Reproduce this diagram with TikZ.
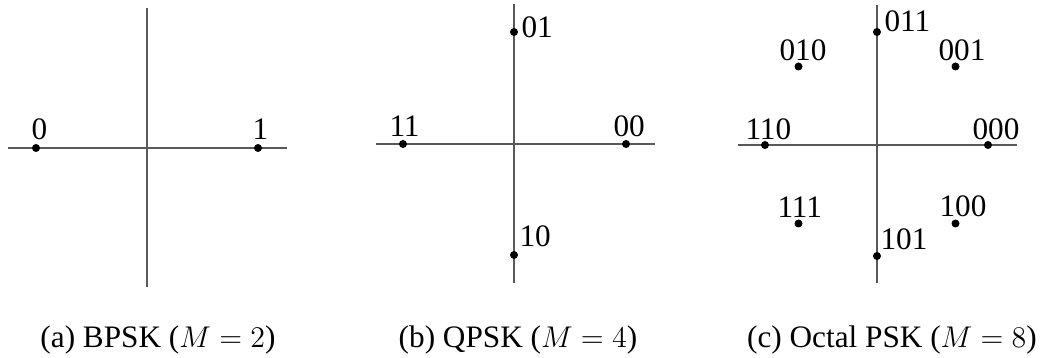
\documentclass[tikz,border=0pt]{standalone}
\usepackage[no-math]{fontspec}
\setmainfont{Liberation Serif}
\tikzset{
  axis/.style={draw=black!65, line width=0.5pt},
  sym/.style={circle, fill=black, inner sep=0pt, minimum size=3.2pt},
  bits/.style={anchor=base west, inner sep=0pt, font=\fontsize{12.5}{15}\selectfont},
  subcap/.style={anchor=base, inner sep=0pt, font=\fontsize{12.5}{15}\selectfont}
}
\begin{document}
\begin{tikzpicture}[x=0.4pt,y=-0.4pt]
  \useasboundingbox (0,0) rectangle (1052,358);
% (a) BPSK
  \draw[axis] (8,148) -- (287,148);
  \draw[axis] (147,8) -- (147,287);
  \node[sym] (a0) at (36,148) {};
  \node[sym] (a1) at (258,148) {};
  \node[bits] (la0) at (31,140) {0};
  \node[bits] (la1) at (252,140) {1};
  \node[subcap] (capa) at (158,348) {(a) BPSK ($M=2$)};
% (b) QPSK
  \draw[axis] (376,144) -- (655,144);
  \draw[axis] (514,4) -- (514,283);
  \node[sym] (b00) at (626,144) {};
  \node[sym] (b01) at (514,32) {};
  \node[sym] (b11) at (403,144) {};
  \node[sym] (b10) at (514,255) {};
  \node[bits] (lb00) at (613,137) {00};
  \node[bits] (lb01) at (521,38) {01};
  \node[bits] (lb11) at (389,137) {11};
  \node[bits] (lb10) at (519,247) {10};
  \node[subcap] (capb) at (518,348) {(b) QPSK ($M = 4$)};
% (c) octal PSK
  \draw[axis] (738,145) -- (1017,145);
  \draw[axis] (877,5) -- (877,283);
  \node[sym] (c000) at (988,145) {};
  \node[sym] (c001) at (955.5,66.5) {};
  \node[sym] (c011) at (877,32) {};
  \node[sym] (c010) at (798.5,66.5) {};
  \node[sym] (c110) at (765,145) {};
  \node[sym] (c111) at (798.5,223.5) {};
  \node[sym] (c101) at (877,256) {};
  \node[sym] (c100) at (955.5,223.5) {};
  \node[bits] (lc000) at (972,140) {000};
  \node[bits] (lc001) at (938,61) {001};
  \node[bits] (lc011) at (884,32) {011};
  \node[bits] (lc010) at (779,61) {010};
  \node[bits] (lc110) at (745,140) {110};
  \node[bits] (lc111) at (777,218) {111};
  \node[bits] (lc101) at (880,250) {101};
  \node[bits] (lc100) at (939,217) {100};
  \node[subcap] (capc) at (892,348) {(c) Octal PSK ($M=8$)};
\end{tikzpicture}
\end{document}
